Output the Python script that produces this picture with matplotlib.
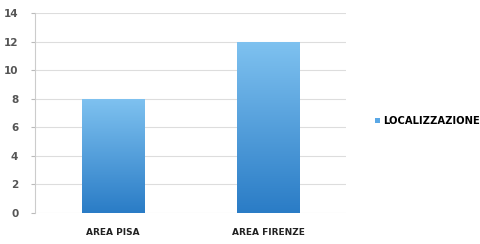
import numpy as np
import matplotlib
matplotlib.use("Agg")
import matplotlib.pyplot as plt
from matplotlib.colors import LinearSegmentedColormap
from matplotlib.patches import Patch

categories = ["AREA PISA", "AREA FIRENZE"]
values = [8, 12]
series_name = "LOCALIZZAZIONE"
yticks = [0, 2, 4, 6, 8, 10, 12, 14]

fig = plt.figure(figsize=(4.8, 2.44), dpi=100)
ax = fig.add_axes([35/480, 1-213/244, (346-35)/480, 200/244])

x = np.arange(len(categories))
bars = ax.bar(x, values, width=0.4, color="none", edgecolor="none", zorder=3)
cmap = LinearSegmentedColormap.from_list("g", ["#2a7cc6", "#7fc2f0"])
grad = np.linspace(0, 1, 256).reshape(-1, 1)
for b in bars:
    x0, y0 = b.get_x(), b.get_y()
    w, h = b.get_width(), b.get_height()
    im = ax.imshow(grad, extent=[x0, x0 + w, y0, y0 + h], origin="lower",
                   cmap=cmap, aspect="auto", zorder=3)
    im.set_clip_path(b)

ax.set_xlim(-0.5, len(categories) - 0.5)
ax.set_ylim(0, 14)
ax.set_yticks(yticks)
ax.set_yticklabels([str(t) for t in yticks], color="#555555", fontsize=7.5,
                   fontweight="bold")
ax.set_xticks(x)
ax.set_xticklabels(categories, fontsize=6.5, fontweight="bold", color="#222222")
ax.tick_params(axis="x", length=0, pad=11)
ax.tick_params(axis="y", length=3, color="#bbbbbb", pad=9)
ax.grid(axis="y", color="#dddddd", linewidth=0.8, zorder=0)
for s in ["top", "right", "bottom"]:
    ax.spines[s].set_visible(False)
ax.spines["left"].set_color("#cccccc")
ax.spines["left"].set_linewidth(0.8)

handle = Patch(facecolor="#5aa8e6", edgecolor="none")
fig.legend([handle], [series_name], loc="center left",
           bbox_to_anchor=(366/480, 1-121/244), frameon=False,
           handlelength=0.5, handleheight=0.5, handletextpad=0.3,
           prop={"size": 7.2, "weight": "bold"})

fig.savefig("out.png", dpi=100)
